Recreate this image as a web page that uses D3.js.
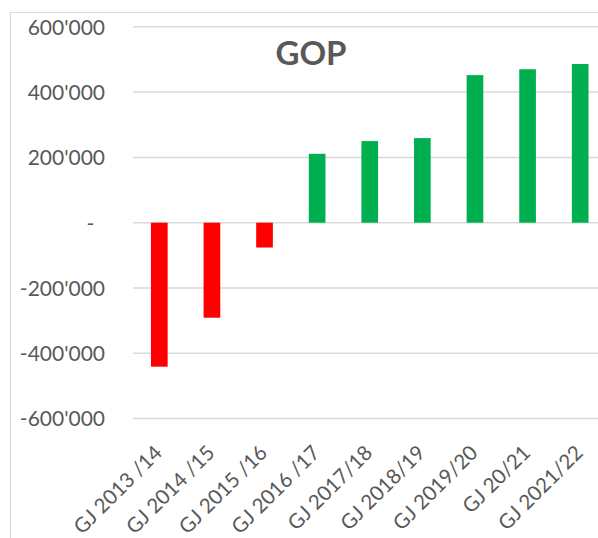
<!DOCTYPE html>
<html>
<head>
  <meta charset="utf-8">
  <title>GOP</title>
  <script src="https://cdn.jsdelivr.net/npm/d3@7"></script>
  <style>
    body { margin: 0; background: #fff; }
    text { font-family: Lato, "Open Sans", sans-serif; fill: #595959; }
  </style>
</head>
<body>
<div id="container"></div>
<script>
  var years = ["GJ 2013 /14", "GJ 2014 /15", "GJ 2015 /16", "GJ 2016 /17", "GJ 2017/18",
               "GJ 2018/19", "GJ 2019/20", "GJ 20/21", "GJ 2021/22"];
  var gop = [-441000, -291000, -76000, 211000, 250000, 259000, 452000, 470000, 486000];
  var yTicks = [-600000, -400000, -200000, 0, 200000, 400000, 600000];

  var width = 598, height = 538;
  var svg = d3.select("#container").append("svg")
      .attr("width", width).attr("height", height);

  // chart frame, runs off the right/bottom edge like the screenshot
  svg.append("rect").attr("x", 10.5).attr("y", 12.5)
      .attr("width", 620).attr("height", 560)
      .attr("fill", "none").attr("stroke", "#d9d9d9");

  var x = d3.scaleBand().domain(years).range([133, 606.5]).paddingInner(0.683).paddingOuter(0.3415);
  var y = d3.scaleLinear().domain([-600000, 600000]).range([418.6, 26.8]);

  // grid
  svg.append("g").selectAll("line").data(yTicks).enter().append("line")
      .attr("x1", 133).attr("x2", 620)
      .attr("y1", function(d){ return y(d); }).attr("y2", function(d){ return y(d); })
      .attr("stroke", "#d9d9d9").attr("stroke-width", 1.5);

  var fmt = function(d){
    if (d === 0) return "-\u00a0\u00a0";
    return d3.format(",")(Math.abs(d)).replace(/,/g, "'").replace(/^/, d < 0 ? "-" : "");
  };
  var yAxis = svg.append("g").attr("transform", "translate(105,0)")
      .call(d3.axisLeft(y).tickValues(yTicks).tickFormat(fmt).tickSize(0).tickPadding(0));
  yAxis.select(".domain").remove();
  yAxis.selectAll("text").style("font-size", "21px").attr("dy", "0.35em").attr("fill", "#595959");

  svg.append("g").selectAll("rect").data(gop).enter().append("rect")
      .attr("x", function(d, i){ return x(years[i]); })
      .attr("width", x.bandwidth())
      .attr("y", function(d){ return y(Math.max(0, d)); })
      .attr("height", function(d){ return Math.abs(y(d) - y(0)); })
      .attr("fill", function(d){ return d < 0 ? "#ff0000" : "#00b050"; });

  // category labels, rotated 45 degrees, end of text near the bar
  var xAxis = svg.append("g")
      .call(d3.axisBottom(x).tickSize(0).tickPadding(0));
  xAxis.select(".domain").remove();
  xAxis.selectAll(".tick").attr("transform", function(d){
    return "translate(" + (x(d) + x.bandwidth() / 2 + 4) + ",454)";
  });
  xAxis.selectAll("text")
      .style("font-size", "20.5px").style("text-anchor", "end")
      .attr("fill", "#595959")
      .attr("y", 0).attr("dy", 0)
      .attr("transform", "rotate(-45)");

  svg.append("text").attr("x", 311).attr("y", 65)
      .attr("text-anchor", "middle")
      .style("font-size", "33px").style("font-weight", "bold")
      .text("GOP");
</script>
</body>
</html>
